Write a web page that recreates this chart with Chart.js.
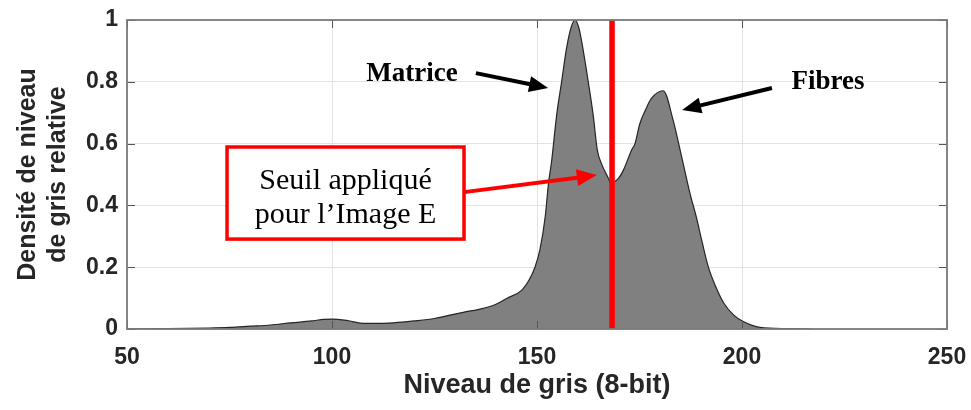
<!DOCTYPE html>
<html>
<head>
<meta charset="utf-8">
<script src="https://cdn.jsdelivr.net/npm/chart.js@4.4.1/dist/chart.umd.min.js"></script>
<style>
  html, body { margin: 0; padding: 0; background: #fff; }
  #wrap { width: 971px; height: 410px; }
</style>
</head>
<body>
<div id="wrap"><canvas id="chart" width="971" height="410"></canvas></div>
<script>
'use strict';

// histogram of grey levels (relative density)
var grayLevels = [50, 60, 70, 75, 80, 85, 90, 95, 98, 100, 103, 105, 107, 110, 115, 120, 125, 128.8, 132,
  136.9, 140, 142.6, 146.3, 148.3, 149.5, 150.7, 152, 152.8, 153.6, 154.8, 156, 157.2, 158.3, 159.3, 160.2,
  160.9, 162.5, 163.7, 164.7, 165.7, 167.4, 168, 169.9, 171.1, 173.1, 173.9, 175.1, 176.5, 177.9, 180.8,
  183.2, 184.9, 187.3, 188.9, 190.3, 191.8, 193.5, 195.5, 198, 200.3, 204.4, 211, 217];
var density = [0, 0.001, 0.003, 0.005, 0.009, 0.013, 0.02, 0.026, 0.031, 0.032, 0.029, 0.024, 0.019, 0.018,
  0.02, 0.026, 0.034, 0.045, 0.054, 0.067, 0.08, 0.099, 0.126, 0.164, 0.2, 0.256, 0.363, 0.471, 0.547, 0.693,
  0.8, 0.908, 0.975, 1.0, 0.975, 0.93, 0.8, 0.693, 0.58, 0.536, 0.488, 0.472, 0.488, 0.515, 0.58, 0.6, 0.665,
  0.71, 0.746, 0.771, 0.676, 0.58, 0.44, 0.36, 0.28, 0.2, 0.14, 0.085, 0.045, 0.024, 0.005, 0.001, 0];
var thresholdLevel = 168.3;
var xTicks = [50, 100, 150, 200, 250];
var yTicks = [0, 0.2, 0.4, 0.6, 0.8, 1];

var INK = '#262626';
var SANS = '"Liberation Sans", Arial, sans-serif';
var SERIF = '"Liberation Serif", "Times New Roman", serif';

var points = grayLevels.map(function(g, i) {
  return { x: g, y: density[i] };
});

function arrow(ctx, x1, y1, x2, y2, color, width, head) {
  var ang = Math.atan2(y2 - y1, x2 - x1);
  var bx = x2 - head * Math.cos(ang);
  var by = y2 - head * Math.sin(ang);
  var hw = head * 0.42;
  ctx.strokeStyle = color;
  ctx.lineWidth = width;
  ctx.beginPath();
  ctx.moveTo(x1, y1);
  ctx.lineTo(bx + 2 * Math.cos(ang), by + 2 * Math.sin(ang));
  ctx.stroke();
  ctx.fillStyle = color;
  ctx.beginPath();
  ctx.moveTo(x2, y2);
  ctx.lineTo(bx + hw * Math.sin(ang), by - hw * Math.cos(ang));
  ctx.lineTo(bx - hw * Math.sin(ang), by + hw * Math.cos(ang));
  ctx.closePath();
  ctx.fill();
}

// box outline + inward tick marks on all four sides
var frame = {
  id: 'frame',
  afterDatasetsDraw: function(chart) {
    var ctx = chart.ctx;
    var a = chart.chartArea;
    var sx = chart.scales.x, sy = chart.scales.y;
    ctx.save();
    ctx.strokeStyle = '#555';
    ctx.lineWidth = 1;
    xTicks.forEach(function(v) {
      var px = Math.round(sx.getPixelForValue(v)) + 0.5;
      ctx.beginPath();
      ctx.moveTo(px, a.bottom); ctx.lineTo(px, a.bottom - 8);
      ctx.moveTo(px, a.top); ctx.lineTo(px, a.top + 8);
      ctx.stroke();
    });
    yTicks.forEach(function(v) {
      var py = Math.round(sy.getPixelForValue(v)) + 0.5;
      ctx.beginPath();
      ctx.moveTo(a.left, py); ctx.lineTo(a.left + 8, py);
      ctx.moveTo(a.right, py); ctx.lineTo(a.right - 8, py);
      ctx.stroke();
    });
    ctx.strokeStyle = '#7a7a7a';
    ctx.lineWidth = 1.8;
    ctx.strokeRect(a.left, a.top, a.right - a.left, a.bottom - a.top);
    ctx.restore();
  }
};

// labels and arrows, placed in data units
var notes = {
  id: 'notes',
  afterDraw: function(chart) {
    var ctx = chart.ctx;
    var sx = chart.scales.x, sy = chart.scales.y;
    function X(v) { return sx.getPixelForValue(v); }
    function Y(v) { return sy.getPixelForValue(v); }
    ctx.save();
    ctx.textAlign = 'center';
    ctx.textBaseline = 'middle';
    ctx.fillStyle = '#000';
    ctx.font = 'bold 27px ' + SERIF;
    ctx.fillText('Matrice', X(119.5), Y(0.825));
    ctx.fillText('Fibres', X(221), Y(0.8));
    arrow(ctx, X(135.1), Y(0.828), X(152.7), Y(0.78), '#000', 4, 19);
    arrow(ctx, X(207.3), Y(0.78), X(185.4), Y(0.709), '#000', 4, 19);

    // threshold label box
    var l = X(74.4), r = X(132.2), t = Y(0.589), b = Y(0.291);
    ctx.fillStyle = '#fff';
    ctx.fillRect(l, t, r - l, b - t);
    ctx.strokeStyle = '#ff0000';
    ctx.lineWidth = 3.5;
    ctx.strokeRect(l, t, r - l, b - t);
    ctx.fillStyle = '#000';
    ctx.font = '30px ' + SERIF;
    ctx.fillText('Seuil appliqué', (l + r) / 2, Y(0.48));
    ctx.fillText('pour l\u2019Image E', (l + r) / 2, Y(0.367));
    arrow(ctx, r, Y(0.443), X(164.6), Y(0.498), '#ff0000', 4, 20);
    ctx.restore();
  }
};

var ctx = document.getElementById('chart').getContext('2d');
var chart = new Chart(ctx, {
  type: 'line',
  data: {
    datasets: [
      {
        label: 'Seuil',
        data: [{ x: thresholdLevel, y: 0 }, { x: thresholdLevel, y: 1 }],
        borderColor: '#ff0000',
        borderWidth: 5.5,
        pointRadius: 0,
        fill: false,
        order: 0
      },
      {
        label: 'Densité',
        data: points,
        borderColor: INK,
        borderWidth: 1.2,
        backgroundColor: '#808080',
        fill: 'origin',
        cubicInterpolationMode: 'monotone',
        pointRadius: 0,
        order: 1
      }
    ]
  },
  options: {
    responsive: false,
    animation: false,
    layout: { padding: { top: 20, right: 24, left: 0, bottom: 0 } },
    plugins: {
      legend: { display: false },
      tooltip: { enabled: false }
    },
    scales: {
      x: {
        type: 'linear',
        min: 50,
        max: 250,
        afterFit: function(scale) {
          scale.height = 81;
          scale.paddingLeft = 0;
          scale.paddingRight = 0;
        },
        afterBuildTicks: function(scale) {
          scale.ticks = xTicks.map(function(v) { return { value: v }; });
        },
        grid: { color: '#e3e3e3', drawTicks: false },
        border: { display: false },
        ticks: {
          padding: 15,
          color: INK,
          font: { family: SANS, size: 23, weight: 'bold' }
        },
        title: {
          display: true,
          text: 'Niveau de gris (8-bit)',
          color: INK,
          padding: { top: 0, bottom: 8 },
          font: { family: SANS, size: 27, weight: 'bold' }
        }
      },
      y: {
        min: 0,
        max: 1,
        afterFit: function(scale) {
          scale.width = 127;
          scale.paddingTop = 0;
          scale.paddingBottom = 0;
        },
        afterBuildTicks: function(scale) {
          scale.ticks = yTicks.map(function(v) { return { value: v }; });
        },
        grid: { color: '#e3e3e3', drawTicks: false },
        border: { display: false },
        ticks: {
          padding: 9,
          color: INK,
          font: { family: SANS, size: 23, weight: 'bold' },
          callback: function(v) { return String(Number(v.toFixed(1))); }
        },
        title: {
          display: true,
          text: ['Densité de niveau', 'de gris relative'],
          color: INK,
          padding: { top: 13, bottom: 0 },
          font: { family: SANS, size: 25, weight: 'bold', lineHeight: 1.2 }
        }
      }
    }
  },
  plugins: [frame, notes]
});
</script>
</body>
</html>
